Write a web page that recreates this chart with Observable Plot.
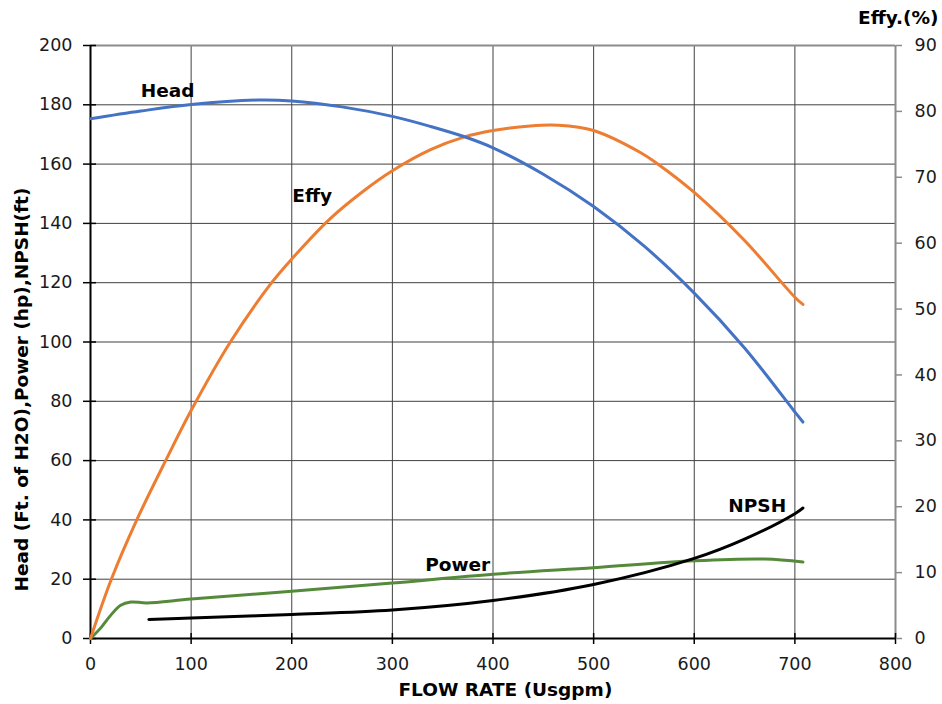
<!DOCTYPE html>
<html>
<head>
<meta charset="utf-8">
<script src="https://cdn.jsdelivr.net/npm/d3@7"></script>
<script src="https://cdn.jsdelivr.net/npm/@observablehq/plot@0.6"></script>
<style>
  body { margin: 0; background: #fff; }
</style>
</head>
<body>
<div id="chart"></div>
<script>
// ---- data ----
const headFlow   = [0, 50, 100, 166, 200, 250, 300, 338, 371, 400, 450, 500, 550, 600, 650, 700, 708];
const headValues = [175.3, 177.9, 180.1, 181.6, 181.3, 179.3, 176.1, 172.7, 169.3, 165.5, 156.6, 145.7, 132.4, 116.5, 98.0, 76.4, 73.0];

const effyFlow   = [0, 21, 46, 75, 100, 139, 180, 200, 238, 272, 300, 338, 371, 400, 437, 465, 500, 546, 563, 600, 650, 700, 708];
const effyValues = [0, 9.1, 18.0, 27.1, 34.6, 45.0, 54.0, 57.6, 63.7, 68.0, 71.0, 74.2, 76.1, 77.1, 77.8, 77.9, 77.1, 73.8, 72.1, 67.7, 60.4, 51.8, 50.7];

const powerFlow   = [0, 10, 20, 30, 40, 56, 100, 200, 300, 400, 500, 600, 670, 708];
const powerValues = [0, 3.5, 7.8, 11.2, 12.3, 12.0, 13.3, 15.9, 18.7, 21.7, 23.9, 26.2, 26.8, 25.8];

const npshFlow   = [58, 100, 200, 300, 400, 500, 600, 650, 700, 708];
const npshValues = [6.4, 6.9, 8.1, 9.6, 12.8, 18.2, 27.0, 33.5, 42.1, 44.0];

const xTicks     = [0, 100, 200, 300, 400, 500, 600, 700, 800];
const leftTicks  = [0, 20, 40, 60, 80, 100, 120, 140, 160, 180, 200];
const rightTicks = [0, 10, 20, 30, 40, 50, 60, 70, 80, 90];

const seriesLabels = ["Head", "Effy", "Power", "NPSH"];
const labelFlow    = [76.6, 220.3, 364.9, 662.6];
const labelValue   = [184.6, 149.1, 24.6, 44.5];

const xTitle = "FLOW RATE (Usgpm)";
const yTitle = "Head (Ft. of H2O),Power (hp),NPSH(ft)";
const rightTitle = "Effy.(%)";

// ---- scales helpers ----
const leftMax = 200, rightMax = 90;
const toLeft = v => v * leftMax / rightMax;

const head  = headFlow.map((q, i) => ({q, v: headValues[i]}));
const effy  = effyFlow.map((q, i) => ({q, v: toLeft(effyValues[i])}));
const power = powerFlow.map((q, i) => ({q, v: powerValues[i]}));
const npsh  = npshFlow.map((q, i) => ({q, v: npshValues[i]}));
const labels = seriesLabels.map((t, i) => ({t, q: labelFlow[i], v: labelValue[i]}));

const gridX = xTicks.filter(d => d > 0 && d < 800);
const gridY = leftTicks.filter(d => d > 0 && d < 200);

const chart = Plot.plot({
  width: 942,
  height: 704,
  marginLeft: 90,
  marginRight: 47,
  marginTop: 45,
  marginBottom: 66,
  x: {domain: [0, 800]},
  y: {domain: [0, 200]},
  style: {fontFamily: "DejaVu Sans, Verdana, sans-serif", fontSize: "17.5px", background: "#fff", color: "#1a1a1a", overflow: "visible"},
  marks: [
    Plot.ruleX(gridX, {stroke: "#404040", strokeWidth: 1}),
    Plot.ruleY(gridY, {stroke: "#404040", strokeWidth: 1}),
    Plot.ruleY([200], {stroke: "#8c8c8c", strokeWidth: 2}),
    Plot.ruleX([800], {stroke: "#8c8c8c", strokeWidth: 2}),
    Plot.ruleX([0], {stroke: "#000", strokeWidth: 2}),
    Plot.ruleY([0], {stroke: "#000", strokeWidth: 2}),

    Plot.axisX(xTicks, {anchor: "bottom", tickSize: 11, dy: -5, tickPadding: 13, stroke: "#000", strokeWidth: 1.5, label: null, fill: "#1a1a1a"}),
    Plot.axisY(leftTicks, {anchor: "left", tickSize: 13, dx: 6, tickPadding: 11, stroke: "#000", strokeWidth: 1.5, label: null, fill: "#1a1a1a"}),
    Plot.axisY(rightTicks.map(toLeft), {anchor: "right", tickSize: 6, tickPadding: 13, stroke: "#8c8c8c", strokeWidth: 1.5, label: null, fill: "#1a1a1a", tickFormat: d => String(Math.round(d * rightMax / leftMax))}),

    Plot.line(power, {x: "q", y: "v", stroke: "#558a3a", strokeWidth: 3, curve: "catmull-rom"}),
    Plot.line(npsh, {x: "q", y: "v", stroke: "#000", strokeWidth: 3, curve: "catmull-rom"}),
    Plot.line(effy, {x: "q", y: "v", stroke: "#ed7d31", strokeWidth: 3, curve: "catmull-rom"}),
    Plot.line(head, {x: "q", y: "v", stroke: "#4472c4", strokeWidth: 3, curve: "catmull-rom"}),

    Plot.text(labels, {x: "q", y: "v", text: "t", fontWeight: "bold", fontSize: 18.5, fill: "#000", lineAnchor: "middle", textAnchor: "middle"}),

    Plot.text([xTitle], {frameAnchor: "bottom", textAnchor: "middle", lineAnchor: "middle", dx: 12.4, dy: 52, fontWeight: "bold", fontSize: 18.5, fill: "#000"}),
    Plot.text([yTitle], {frameAnchor: "left", textAnchor: "middle", lineAnchor: "middle", rotate: -90, dx: -68, dy: 47.5, fontWeight: "bold", fontSize: 18.5, fill: "#000"}),
    Plot.text([rightTitle], {frameAnchor: "top-right", textAnchor: "end", lineAnchor: "middle", dx: 43, dy: -27, fontWeight: "bold", fontSize: 18.5, fill: "#000"})
  ]
});

document.getElementById("chart").appendChild(chart);
</script>
</body>
</html>
